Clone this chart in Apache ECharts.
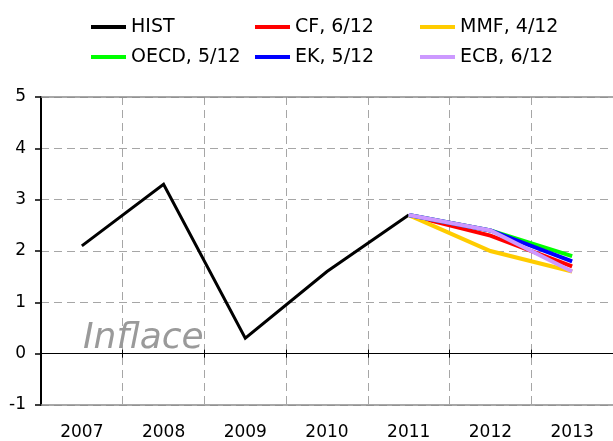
<!DOCTYPE html>
<html>
<head>
<meta charset="utf-8">
<script src="https://cdn.jsdelivr.net/npm/echarts@6/dist/echarts.min.js"></script>
<style>html,body{margin:0;padding:0;background:#fff}#c{width:613px;height:441px}</style>
</head>
<body>
<div id="c"></div>
<script>
var years = ['2007','2008','2009','2010','2011','2012','2013'];
var hist = [2.1, 3.3, 0.3, 1.6, 2.7, null, null];
var cf   = [null, null, null, null, 2.7, 2.3, 1.7];
var mmf  = [null, null, null, null, 2.7, 2.0, 1.6];
var oecd = [null, null, null, null, 2.7, 2.4, 1.9];
var ek   = [null, null, null, null, 2.7, 2.4, 1.8];
var ecb  = [null, null, null, null, 2.7, 2.4, 1.6];
var yTicks = {min: -1, max: 5, interval: 1};

var FONT = 'DejaVu Sans';
var chart = echarts.init(document.getElementById('c'));

function lineSeries(name, data, color, width) {
  return {
    name: name, type: 'line', data: data, symbol: 'none',
    xAxisIndex: 0, yAxisIndex: 0, connectNulls: false,
    lineStyle: {color: color, width: width, join: 'miter'},
    itemStyle: {color: color},
    emphasis: {disabled: true}, animation: false
  };
}
function legendCol(left, names) {
  return {
    orient: 'vertical', left: left, top: 12, itemGap: 10,
    icon: 'rect', itemWidth: 35, itemHeight: 4,
    selectedMode: false, data: names,
    textStyle: {fontFamily: FONT, fontSize: 19, color: '#000', lineHeight: 20}
  };
}
var baseX = {type: 'category', data: years, boundaryGap: true};

chart.setOption({
  animation: false,
  textStyle: {fontFamily: FONT},
  legend: [
    legendCol(86, ['HIST', 'OECD, 5/12']),
    legendCol(250, ['CF, 6/12', 'EK, 5/12']),
    legendCol(415, ['MMF, 4/12', 'ECB, 6/12'])
  ],
  grid: {left: 41, right: 0, top: 97, bottom: 35, containLabel: false},
  xAxis: [
    Object.assign({}, baseX, {
      position: 'bottom',
      axisLine: {show: true, onZero: false, lineStyle: {color: '#8c8c8c', width: 1.5}},
      axisTick: {show: false},
      axisLabel: {fontFamily: FONT, fontSize: 17, color: '#000', margin: 19},
      splitLine: {show: true, lineStyle: {color: '#a6a6a6', type: [8, 5], width: 1}}
    }),
    Object.assign({}, baseX, {
      position: 'top',
      axisLine: {show: true, onZero: false, lineStyle: {color: '#8c8c8c', width: 1.5}},
      axisTick: {show: false}, axisLabel: {show: false}, splitLine: {show: false}
    }),
    Object.assign({}, baseX, {
      position: 'bottom',
      axisLine: {show: true, onZero: true, onZeroAxisIndex: 0, lineStyle: {color: '#000', width: 1}},
      axisTick: {show: true, inside: true, length: 4, lineStyle: {color: '#000', width: 1}},
      axisLabel: {show: false}, splitLine: {show: false}
    }),
    Object.assign({}, baseX, {
      position: 'bottom',
      axisLine: {show: true, onZero: true, onZeroAxisIndex: 0, lineStyle: {color: '#000', width: 1}},
      axisTick: {show: true, inside: false, length: 4, lineStyle: {color: '#000', width: 1}},
      axisLabel: {show: false}, splitLine: {show: false}
    })
  ],
  yAxis: {
    type: 'value', min: yTicks.min, max: yTicks.max, interval: yTicks.interval,
    axisLine: {show: true, lineStyle: {color: '#000', width: 2}},
    axisTick: {show: true, length: 6, lineStyle: {color: '#000', width: 1.5}},
    axisLabel: {fontFamily: FONT, fontSize: 17, color: '#000', margin: 15},
    splitLine: {show: true, lineStyle: {color: '#a6a6a6', type: [8, 5], width: 1}}
  },
  graphic: [{
    type: 'text', left: 83, top: 321, z: 1,
    style: {text: 'Inflace', font: 'italic 36px "DejaVu Sans"', fill: '#9a9a9a'}
  }],
  series: [
    lineSeries('HIST', hist, '#000000', 3),
    lineSeries('CF, 6/12', cf, '#ff0000', 4),
    lineSeries('MMF, 4/12', mmf, '#ffcc00', 4),
    lineSeries('OECD, 5/12', oecd, '#00ff00', 4),
    lineSeries('EK, 5/12', ek, '#0000ff', 4),
    lineSeries('ECB, 6/12', ecb, '#cc99ff', 4)
  ]
});
</script>
</body>
</html>
